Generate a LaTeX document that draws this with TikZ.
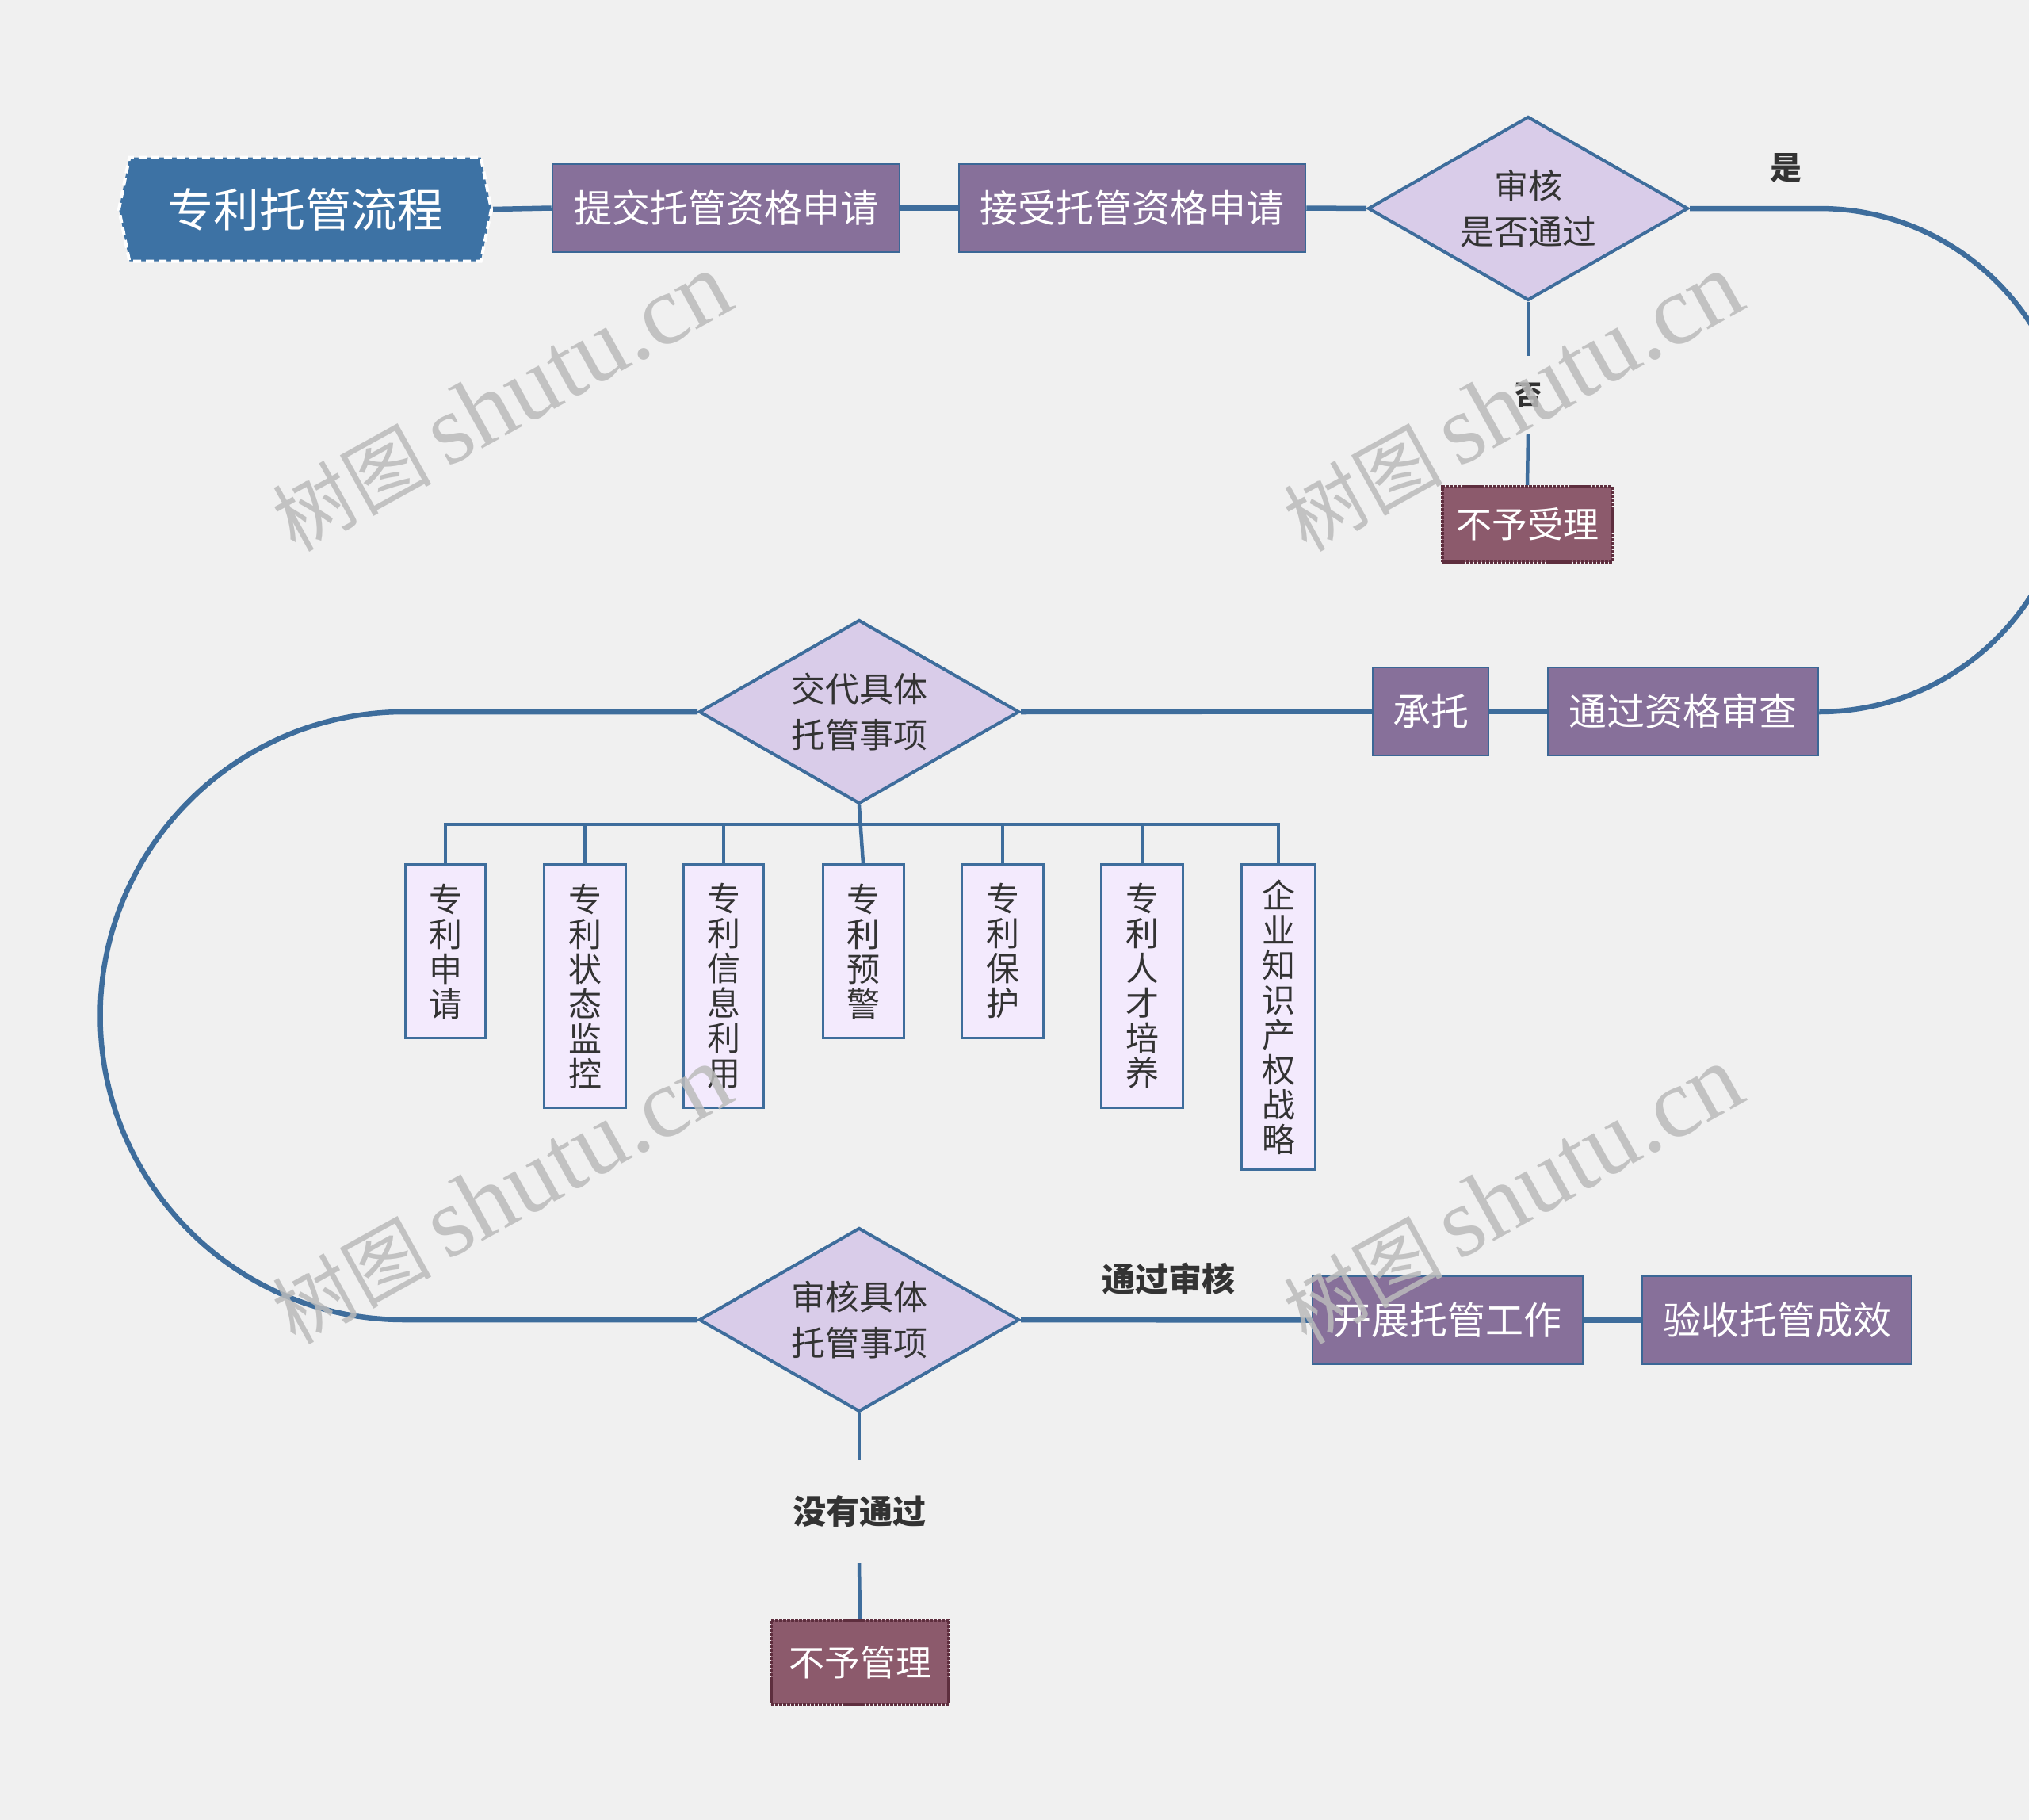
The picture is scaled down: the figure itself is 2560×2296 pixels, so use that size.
\documentclass[tikz,border=0pt]{standalone}
\usepackage{fontspec}
\newfontfamily\cjk{Noto Sans CJK SC}
\newfontfamily\wmser{Liberation Serif}
\usetikzlibrary{shapes.geometric,shapes.symbols,backgrounds}
\definecolor{bgc}{HTML}{F0F0F0}
\definecolor{linec}{HTML}{3E6D9C}
\definecolor{boxc}{HTML}{87709A}
\definecolor{boxb}{HTML}{3B6796}
\definecolor{diac}{HTML}{D9CCE9}
\definecolor{subc}{HTML}{F3EAFD}
\definecolor{rejc}{HTML}{8C5A6C}
\definecolor{rejb}{HTML}{5E2E3E}
\definecolor{titlec}{HTML}{3D72A4}
\definecolor{txtc}{HTML}{333333}
\definecolor{wmc}{HTML}{BBBBBB}
\begin{document}
\begin{tikzpicture}[x=1pt,y=1pt,
  mainline/.style={draw=linec,line width=6.5pt},
  thinline/.style={draw=linec,line width=4.5pt},
  titlebox/.style={shape=signal,signal to=west and east,signal pointer angle=157,
    fill=titlec,draw=white,dashed,dash pattern=on 10pt off 6pt,line width=4pt,
    minimum width=470pt,minimum height=131pt,inner sep=0pt,
    text=white,font=\cjk\fontsize{58}{62}\selectfont},
  purplebox/.style={rectangle,fill=boxc,draw=boxb,line width=2.5pt,
    minimum height=111pt,inner sep=0pt,text=white,
    font=\cjk\fontsize{48}{52}\selectfont},
  diabox/.style={diamond,fill=diac,draw=linec,line width=4pt,aspect=1.74,
    minimum width=404pt,minimum height=232pt,inner sep=0pt,align=center,
    text=txtc,font=\cjk\fontsize{43}{58}\selectfont},
  subbox/.style={rectangle,fill=subc,draw=linec,line width=3pt,anchor=north,
    inner sep=0pt,align=center,text=txtc,font=\cjk\fontsize{42}{44}\selectfont},
  rejbox/.style={rectangle,fill=rejc,draw=rejb,densely dotted,line width=4pt,
    inner sep=0pt,text=white,font=\cjk\fontsize{45}{48}\selectfont},
  lbl/.style={inner sep=0pt,text=txtc,font=\cjk\bfseries\fontsize{40}{44}\selectfont},
  wmcjk/.style={text=wmc,opacity=0.85,rotate=29,inner sep=0pt,anchor=base east,
    font=\cjk\fontsize{100}{100}\selectfont},
  wmlat/.style={text=wmc,opacity=0.85,rotate=29,inner sep=0pt,anchor=base west,
    font=\wmser\fontsize{125}{125}\selectfont}
]
\useasboundingbox (0,0) rectangle (2560,-2296);

% row 1
\node[titlebox] (title) at (385,-264) {专利托管流程};
\node[purplebox,minimum width=438pt] (tijiao) at (916,-262.5) {提交托管资格申请};
\node[purplebox,minimum width=437pt] (jieshou) at (1428.5,-262.5) {接受托管资格申请};
\node[diabox] (dia1) at (1928,-263) {审核\\是否通过};
\node[lbl,font=\cjk\bfseries\fontsize{34}{38}\selectfont,minimum height=98pt] (fou) at (1928,-498) {否};
\node[rejbox,minimum width=214pt,minimum height=95pt] (buli) at (1927,-661.5) {不予受理};
\node[lbl] (shi) at (2253,-212) {是};

% row 2
\node[purplebox,minimum width=341pt] (shencha) at (2123.5,-897.5) {通过资格审查};
\node[purplebox,minimum width=146pt] (chengtuo) at (1805,-897.5) {承托};
\node[diabox] (dia2) at (1084,-898) {交代具体\\托管事项};
\coordinate (lt) at (510,-898);
\coordinate (bus) at (0,-1040);

% sub items
\node[subbox,minimum width=101pt,minimum height=219pt] (s1) at (562,-1089) {专\\利\\申\\请};
\node[subbox,minimum width=103pt,minimum height=307pt] (s2) at (738,-1089) {专\\利\\状\\态\\监\\控};
\node[subbox,minimum width=101pt,minimum height=307pt] (s3) at (913,-1089) {专\\利\\信\\息\\利\\用};
\node[subbox,minimum width=102pt,minimum height=219pt] (s4) at (1089,-1089) {专\\利\\预\\警};
\node[subbox,minimum width=103pt,minimum height=219pt] (s5) at (1265,-1089) {专\\利\\保\\护};
\node[subbox,minimum width=103pt,minimum height=307pt] (s6) at (1441,-1089) {专\\利\\人\\才\\培\\养};
\node[subbox,minimum width=93pt,minimum height=385pt] (s7) at (1613,-1089) {企\\业\\知\\识\\产\\权\\战\\略};

% row 3
\node[diabox] (dia3) at (1084,-1665) {审核具体\\托管事项};
\node[lbl,font=\cjk\bfseries\fontsize{42}{46}\selectfont] (tongguo) at (1474,-1613) {通过审核};
\node[purplebox,minimum width=341pt] (kaizhan) at (1826.5,-1665.5) {开展托管工作};
\node[purplebox,minimum width=340pt] (yanshou) at (2242,-1665.5) {验收托管成效};
\node[lbl,font=\cjk\bfseries\fontsize{42}{46}\selectfont,minimum height=130pt] (meiyou) at (1084,-1907) {没有通过};
\node[rejbox,minimum width=224pt,minimum height=106pt] (buguan) at (1085,-2097) {不予管理};

% connectors, background
\begin{scope}[on background layer]
\fill[bgc] (0,0) rectangle (2560,-2296);
\draw[mainline] (title.east) -- (tijiao.west);
\draw[mainline] (tijiao.east) -- (jieshou.west);
\draw[mainline] (jieshou.east) -- (dia1.west);
\draw[mainline] (dia1.east) -- (dia1.east -| shencha.east)
  arc[start angle=90,end angle=-90,radius=317.5pt] -- (shencha.east);
\draw[thinline] (dia1.south) -- (fou.north);
\draw[thinline] (fou.south) -- (buli.north);
\draw[mainline] (shencha.west) -- (chengtuo.east);
\draw[mainline] (chengtuo.west) -- (dia2.east);
\draw[mainline] (dia2.west) -- (lt)
  arc[start angle=90,end angle=270,radius=383.5pt] -- (dia3.west);
\draw[thinline] (dia2.south) -- (s4.north);
\draw[thinline] (s1.north) |- (s7.north |- bus) -- (s7.north);
\draw[thinline] (s2.north) -- (s2.north |- bus);
\draw[thinline] (s3.north) -- (s3.north |- bus);
\draw[thinline] (s5.north) -- (s5.north |- bus);
\draw[thinline] (s6.north) -- (s6.north |- bus);
\draw[mainline] (dia3.east) -- (kaizhan.west);
\draw[mainline] (kaizhan.east) -- (yanshou.west);
\draw[thinline] (dia3.south) -- (meiyou.north);
\draw[thinline] (meiyou.south) -- (buguan.north);
\end{scope}

% watermarks
\coordinate (wm1) at (548,-600);
\coordinate (wm2) at (1824,-600);
\coordinate (wm3) at (548,-1600);
\coordinate (wm4) at (1824,-1600);
\foreach \w in {wm1,wm2,wm3,wm4}{
  \node[wmcjk] at (\w) {树图};
  \node[wmlat] at ([shift={(16,9)}]\w) {shutu.cn};
}
\end{tikzpicture}
\end{document}
